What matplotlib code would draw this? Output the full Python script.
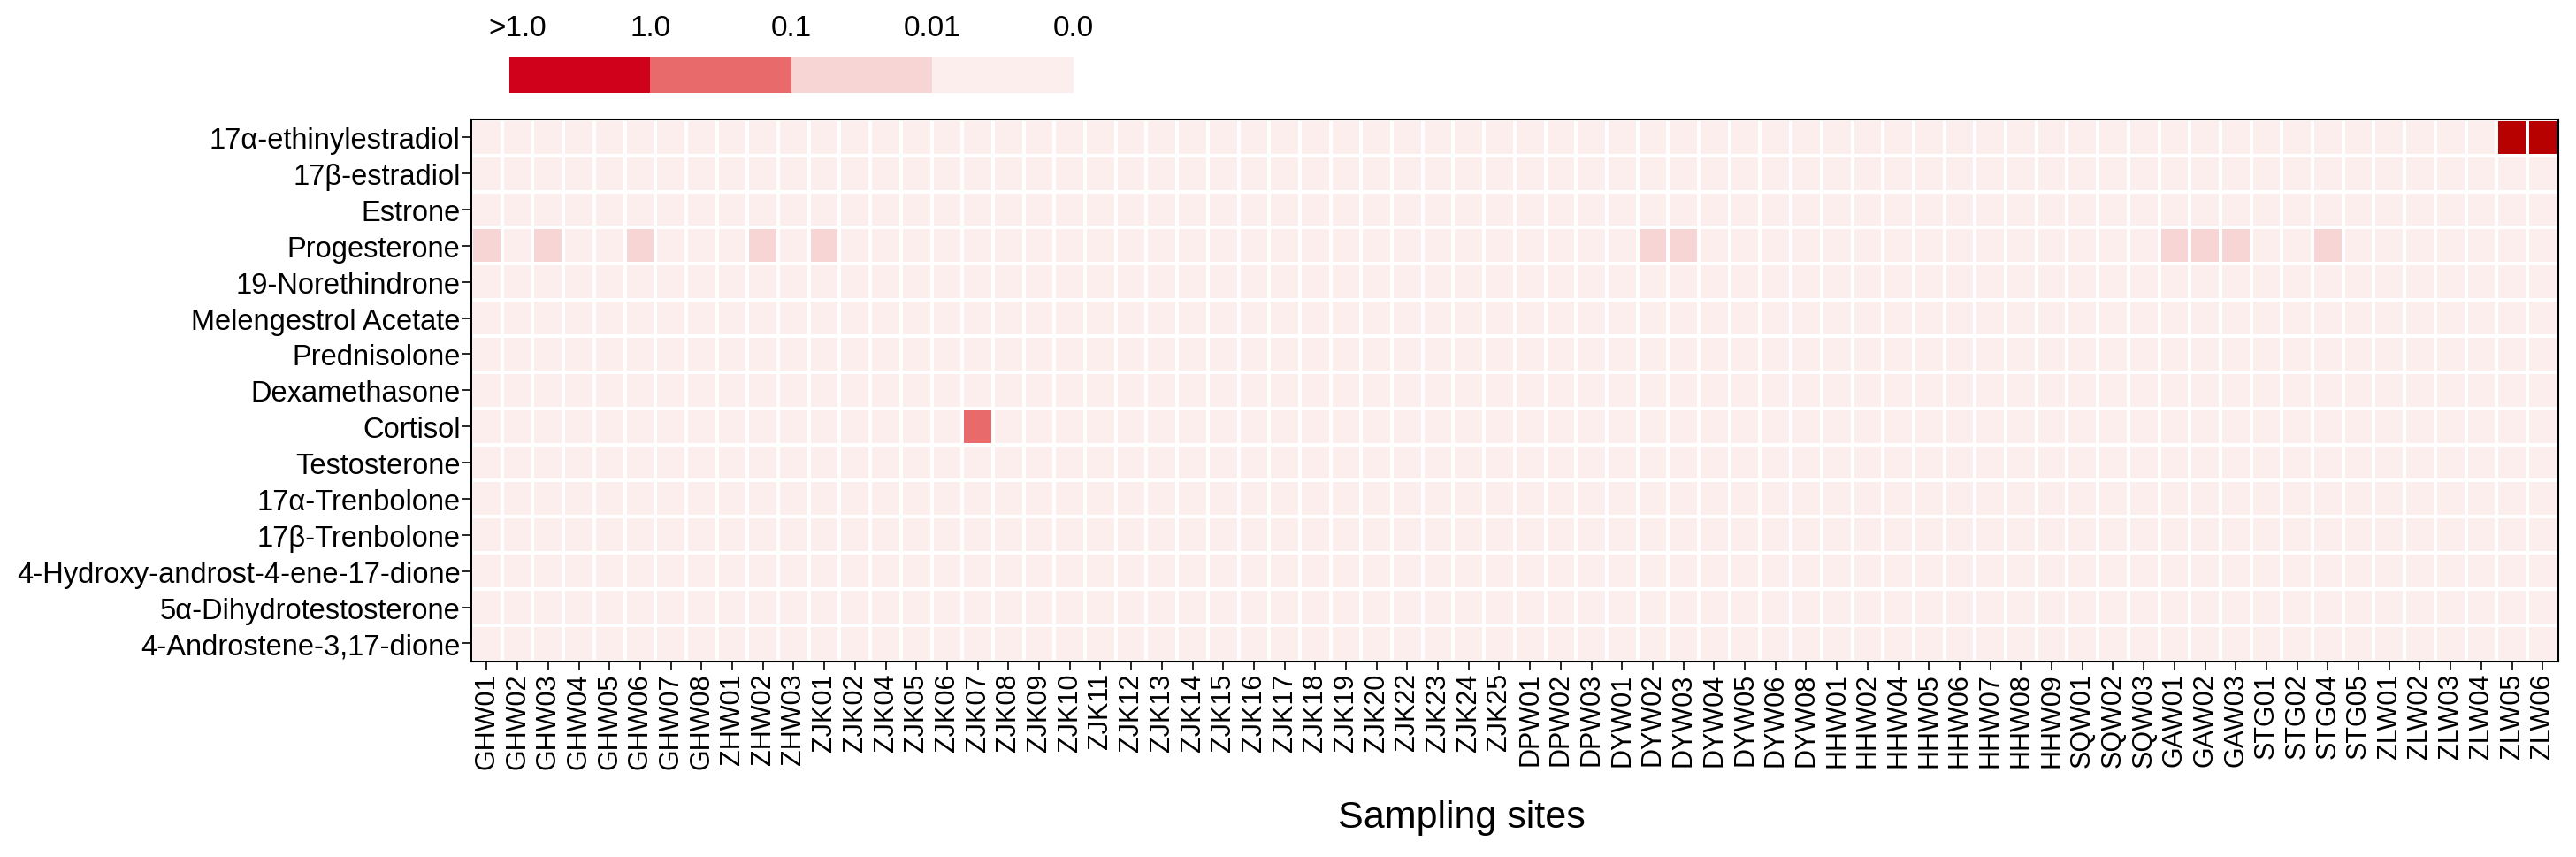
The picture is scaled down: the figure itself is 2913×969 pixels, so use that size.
import numpy as np
import matplotlib
matplotlib.use('Agg')
import matplotlib.pyplot as plt
from matplotlib.colors import ListedColormap, BoundaryNorm

plt.rcParams['font.family'] = ['Liberation Sans', 'DejaVu Sans']

compounds = ['17α-ethinylestradiol', '17β-estradiol', 'Estrone', 'Progesterone',
             '19-Norethindrone', 'Melengestrol Acetate', 'Prednisolone',
             'Dexamethasone', 'Cortisol', 'Testosterone', '17α-Trenbolone',
             '17β-Trenbolone', '4-Hydroxy-androst-4-ene-17-dione',
             '5α-Dihydrotestosterone', '4-Androstene-3,17-dione']

sites = ['GHW01', 'GHW02', 'GHW03', 'GHW04', 'GHW05', 'GHW06', 'GHW07', 'GHW08',
         'ZHW01', 'ZHW02', 'ZHW03',
         'ZJK01', 'ZJK02', 'ZJK04', 'ZJK05', 'ZJK06', 'ZJK07', 'ZJK08', 'ZJK09',
         'ZJK10', 'ZJK11', 'ZJK12', 'ZJK13', 'ZJK14', 'ZJK15', 'ZJK16', 'ZJK17',
         'ZJK18', 'ZJK19', 'ZJK20', 'ZJK22', 'ZJK23', 'ZJK24', 'ZJK25',
         'DPW01', 'DPW02', 'DPW03',
         'DYW01', 'DYW02', 'DYW03', 'DYW04', 'DYW05', 'DYW06', 'DYW08',
         'HHW01', 'HHW02', 'HHW04', 'HHW05', 'HHW06', 'HHW07', 'HHW08', 'HHW09',
         'SQW01', 'SQW02', 'SQW03',
         'GAW01', 'GAW02', 'GAW03',
         'STG01', 'STG02', 'STG04', 'STG05',
         'ZLW01', 'ZLW02', 'ZLW03', 'ZLW04', 'ZLW05', 'ZLW06']

# risk quotients; every cell not listed sits in the lowest class (<0.01)
background_rq = 0.001
elevated = [
    ('Progesterone', 'GHW01', 0.03), ('Progesterone', 'GHW03', 0.03),
    ('Progesterone', 'GHW06', 0.03), ('Progesterone', 'ZHW02', 0.03),
    ('Progesterone', 'ZJK01', 0.03), ('Progesterone', 'DYW02', 0.03),
    ('Progesterone', 'DYW03', 0.03), ('Progesterone', 'GAW01', 0.03),
    ('Progesterone', 'GAW02', 0.03), ('Progesterone', 'GAW03', 0.03),
    ('Progesterone', 'STG04', 0.03),
    ('Cortisol', 'ZJK07', 0.4),
    ('17α-ethinylestradiol', 'ZLW05', 15.0),
    ('17α-ethinylestradiol', 'ZLW06', 15.0),
]

legend_labels = ['>1.0', '1.0', '0.1', '0.01', '0.0']
legend_colors = ['#D0021B', '#E86A6A', '#F8D5D5', '#FBEEEC']

rq = np.full((len(compounds), len(sites)), background_rq)
for c, s, v in elevated:
    rq[compounds.index(c), sites.index(s)] = v

cell_cmap = ListedColormap(['#FBEEEC', '#F8D5D5', '#E86A6A', '#D0021B', '#B70000'])
cell_norm = BoundaryNorm([0, 0.01, 0.1, 1, 10, 1000], cell_cmap.N)

fig = plt.figure(figsize=(29.13, 9.70), dpi=100)
ax = fig.add_axes([0.183, 0.228, 0.810, 0.632])
ax.pcolormesh(rq, cmap=cell_cmap, norm=cell_norm, edgecolors='white', linewidth=2.8)
ax.set_xlim(0, len(sites))
ax.set_ylim(len(compounds), 0)
ax.set_xticks(np.arange(len(sites)) + 0.5)
ax.set_xticklabels(sites, rotation=90, fontsize=22)
ax.set_yticks(np.arange(len(compounds)) + 0.5)
ax.set_yticklabels(compounds, fontsize=23.5)
ax.tick_params(length=7, width=1.2, color='black', pad=2)
for sp in ax.spines.values():
    sp.set_linewidth(1.5)
fig.text(0.5675, 0.046, 'Sampling sites', ha='center', va='center', fontsize=31)

# class legend above the heatmap
lax = fig.add_axes([0.1977, 0.8907, 0.219, 0.0423])
lax.pcolormesh(np.arange(len(legend_colors))[None, :],
               cmap=ListedColormap(legend_colors), vmin=-0.5, vmax=len(legend_colors) - 0.5)
lax.set_xlim(0, len(legend_colors))
lax.set_ylim(0, 1)
lax.axis('off')
for i, lab in enumerate(legend_labels):
    x = i + (0.06 if i == 0 else 0)
    lax.text(x, 1.8, lab, ha='center', va='center', fontsize=24)

fig.savefig('out.png', dpi=100)
